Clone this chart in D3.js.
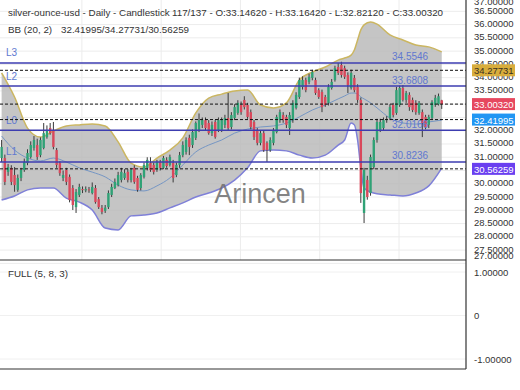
<!DOCTYPE html>
<html>
<head>
<meta charset="utf-8">
<script src="https://cdn.jsdelivr.net/npm/d3@7"></script>
<style>
  body { margin: 0; background: #fff; }
  svg { display: block; font-family: "Liberation Sans", Arial, sans-serif; }
</style>
</head>
<body>
<div id="chart"></div>
<script>
// Daily candles, oldest first (137 bars)
const opens = [30.97,30.97,30.45,30.60,30.33,29.77,30.22,30.52,30.78,31.01,
  31.35,31.46,31.08,31.35,31.76,32.10,32.03,31.27,30.78,30.22,
  30.52,30.26,29.84,29.12,29.58,29.80,29.75,29.79,29.65,29.84,
  29.42,29.09,28.98,29.12,29.58,29.84,29.95,30.14,30.22,30.45,
  30.14,30.60,30.22,29.84,30.26,30.60,30.78,30.71,30.52,30.82,
  30.60,30.90,30.71,30.78,30.33,30.71,31.08,31.20,31.73,31.46,
  31.73,32.03,32.22,32.40,32.29,31.91,32.33,32.03,32.03,32.22,
  32.48,32.14,32.48,32.67,32.97,33.16,32.97,32.70,32.33,32.03,
  31.54,31.91,31.54,31.27,31.54,31.95,32.40,32.59,32.52,32.10,
  32.40,32.86,33.27,33.65,33.91,33.84,33.99,33.91,33.53,33.46,
  33.27,33.05,33.61,33.91,34.40,34.48,34.36,34.10,33.61,33.99,
  33.65,33.16,28.90,30.14,29.65,30.63,31.65,32.03,32.10,32.40,
  32.48,32.97,32.67,32.97,33.61,33.16,33.35,33.16,33.05,32.67,
  32.70,32.52,32.22,32.48,32.97,33.00,33.1462];
const highs = [31.65,31.10,30.75,30.70,30.63,30.35,30.60,30.95,31.30,31.60,
  31.80,31.70,31.75,32.29,32.20,32.29,32.33,31.35,30.85,30.50,
  30.60,30.35,29.95,29.80,30.00,29.90,29.90,29.88,30.05,29.95,
  29.50,29.20,29.20,29.75,30.00,30.20,30.45,30.60,30.55,30.55,
  30.60,30.70,30.30,30.40,30.80,31.00,31.00,30.80,30.90,30.90,
  31.05,31.00,31.10,30.90,30.80,31.20,31.60,31.75,31.85,32.05,
  32.35,32.65,32.50,32.50,32.40,32.35,32.40,32.50,32.50,32.60,
  33.42,32.70,33.00,33.15,33.10,33.30,33.05,32.80,32.40,32.10,
  32.00,32.00,31.60,31.75,32.10,32.60,32.80,32.70,32.60,32.70,
  33.15,33.45,34.00,34.05,34.00,34.15,34.30,34.00,33.60,33.55,
  33.35,33.75,33.95,34.45,34.55,34.60,34.45,34.20,34.30,34.10,
  33.75,33.25,30.60,30.30,31.10,31.75,32.45,32.45,32.50,32.55,
  33.00,33.05,33.65,33.70,33.72,33.50,33.45,33.25,33.15,33.12,
  32.80,32.60,32.60,33.15,33.35,33.40,33.1642];
const lows = [30.82,29.95,30.30,29.95,29.70,29.70,30.10,30.45,30.70,30.95,
  31.25,30.90,31.00,31.30,31.70,31.85,31.30,30.60,30.30,30.10,
  29.95,29.30,29.01,28.90,29.50,29.65,29.68,29.66,29.60,29.25,
  29.05,28.85,28.90,29.05,29.50,29.80,29.90,30.05,30.15,30.05,
  30.05,30.00,29.70,29.75,30.20,30.50,30.45,30.35,30.45,30.50,
  30.55,30.60,30.65,30.05,30.25,30.60,31.00,31.10,31.08,31.35,
  31.65,31.95,32.10,32.00,31.85,31.80,31.70,31.95,31.95,32.10,
  32.00,32.05,32.40,32.60,32.60,32.80,32.45,32.05,31.65,31.45,
  31.45,31.20,30.82,31.20,31.45,31.90,32.30,32.30,32.10,31.84,
  32.30,32.80,33.20,33.55,33.45,33.75,33.90,33.35,33.20,32.70,
  32.90,32.95,33.55,33.85,34.10,34.00,33.95,33.42,33.55,33.45,
  33.05,29.28,28.52,29.40,29.55,30.55,31.55,31.95,32.00,32.30,
  32.40,32.50,32.60,32.90,33.10,33.05,32.75,32.70,32.60,32.60,
  31.76,32.05,32.10,32.40,32.90,32.95,32.8212];
const closes = [31.39,30.07,30.63,30.07,29.95,30.22,30.52,30.82,31.16,31.46,
  31.65,31.01,31.65,31.91,32.03,31.91,31.39,30.71,30.40,30.33,
  30.07,29.39,29.20,29.69,29.88,29.76,29.80,29.76,29.88,29.31,
  29.12,28.94,29.10,29.65,29.88,30.07,30.33,30.45,30.40,30.14,
  30.52,30.07,29.77,30.33,30.71,30.90,30.52,30.45,30.82,30.60,
  30.97,30.67,31.01,30.22,30.71,31.08,31.46,31.65,31.39,31.95,
  32.29,32.40,32.40,32.10,31.91,32.22,31.76,32.40,32.40,32.48,
  32.10,32.59,32.89,33.05,32.70,32.89,32.52,32.14,31.76,31.54,
  31.91,31.27,31.27,31.65,32.03,32.52,32.70,32.40,32.22,32.59,
  33.05,33.35,33.91,33.91,33.53,34.03,34.21,33.42,33.27,32.89,
  32.97,33.65,33.84,34.36,34.18,34.10,34.03,33.72,34.18,33.53,
  33.16,29.65,30.52,29.50,31.01,31.65,32.33,32.33,32.40,32.44,
  32.89,32.59,33.53,33.61,33.16,33.42,32.89,32.78,32.70,33.05,
  32.29,32.14,32.52,33.08,33.24,33.30,33.0032];

// Bollinger band (20, 2) read at these bar indices
const bbIdx   = [0,4,8,12,16,20,24,28,32,36,40,44,48,52,56,60,64,68,72,76,80,84,88,92,96,100,104,106,108,109,110,111,112,114,116,120,124,128,132,136];
const bbUpper = [34.18,33.27,32.10,31.76,31.99,32.18,32.22,32.25,32.18,31.58,30.78,30.63,30.97,31.27,31.73,32.67,33.23,33.38,33.50,33.53,32.97,32.86,33.05,33.91,34.21,34.40,34.66,34.74,34.85,35.04,35.42,35.80,35.99,36.10,36.02,35.61,35.42,35.23,35.16,34.97];
const bbMid   = [31.80,31.27,30.97,30.86,30.97,30.82,30.60,30.44,30.26,29.95,29.77,29.73,29.92,30.22,30.71,31.20,31.46,31.65,31.91,32.06,32.14,32.18,32.29,32.52,32.78,32.97,33.20,33.31,33.42,33.42,33.39,33.27,33.20,33.05,32.86,32.48,32.29,32.25,32.33,32.40];
const bbLower = [29.39,29.54,29.77,29.84,29.84,29.46,29.31,29.01,28.33,28.26,28.79,28.82,28.90,29.09,29.28,29.50,29.65,29.84,30.14,30.60,31.24,31.27,31.24,31.08,30.97,31.08,31.46,31.65,32.29,32.22,31.65,30.59,29.84,29.69,29.62,29.58,29.54,29.65,29.92,30.59];

// Horizontal levels
const levelNames  = ['L3', 'L2', 'L0', 'L1'];
const levelValues = [34.5546, 33.6808, 32.0166, 30.8236];

// Last values marked on the price axis
const markNames  = ['upper', 'close', 'mid', 'lower'];
const markValues = [34.27731, 33.00320, 32.41995, 30.56259];
const markColors = ['#d8ad3c', '#e6485f', '#2196f3', '#6a3ff0'];
const markText   = ['#3a3020', '#fff', '#fff', '#fff'];

const priceTicks = d3.range(27, 37.01, 0.5);
const oscTicks = [1, 0, -1];
const oscLabels = ['1.00000', '0', '-1.00000'];
const timeGrid = [24.8, 49.3, 73.8, 98.3, 122.8];

class CandleChart {
  constructor(_config) {
    this.config = {
      parentElement: _config.parentElement,
      width: 520,
      height: 390,
      plotRight: 466,
      mainBottom: 260,
      subBottom: 369
    };
    this.initVis();
  }

  initVis() {
    let vis = this;
    const c = vis.config;

    vis.svg = d3.select(c.parentElement).append('svg')
        .attr('width', c.width)
        .attr('height', c.height);

    vis.xScale = d3.scaleLinear().domain([-0.5, 143.5]).range([0, c.plotRight]);
    vis.yScale = d3.scaleLinear().domain([36.927, 27.127]).range([0, c.mainBottom]);
    vis.oscScale = d3.scaleLinear().domain([1, -1]).range([272, 359]);

    vis.data = closes.map((d, i) => ({i: i, o: opens[i], h: highs[i], l: lows[i], c: d}));
    vis.bands = bbIdx.map((d, k) => ({i: d, u: bbUpper[k], m: bbMid[k], lo: bbLower[k]}));
    vis.renderVis();
  }

  renderVis() {
    let vis = this;
    const c = vis.config;
    const x = vis.xScale, y = vis.yScale;

    // grid
    const grid = vis.svg.append('g');
    grid.selectAll('.hgrid').data(priceTicks).join('line')
        .attr('x1', 0).attr('x2', c.plotRight)
        .attr('y1', d => y(d)).attr('y2', d => y(d))
        .attr('stroke', '#ececec');
    grid.selectAll('.vgrid').data(timeGrid).join('line')
        .attr('x1', d => x(d)).attr('x2', d => x(d))
        .attr('y1', 0).attr('y2', c.mainBottom)
        .attr('stroke', '#ececec');
    grid.selectAll('.ogrid').data(oscTicks).join('line')
        .attr('x1', 0).attr('x2', c.plotRight)
        .attr('y1', d => vis.oscScale(d)).attr('y2', d => vis.oscScale(d))
        .attr('stroke', '#f0f0f0');

    // bollinger area + lines
    const curve = d3.curveMonotoneX;
    vis.svg.append('path').datum(vis.bands)
        .attr('d', d3.area().curve(curve).x(d => x(d.i)).y0(d => y(d.lo)).y1(d => y(d.u)))
        .attr('fill', '#b6b6b6').attr('fill-opacity', 0.8);
    const bandLine = (acc, col, w) => vis.svg.append('path').datum(vis.bands)
        .attr('d', d3.line().curve(curve).x(d => x(d.i)).y(d => y(acc(d))))
        .attr('fill', 'none').attr('stroke', col).attr('stroke-width', w);
    bandLine(d => d.u, '#cbb661', 1.5);
    bandLine(d => d.lo, '#7f80d8', 1.5);
    bandLine(d => d.m, '#7596c4', 1);

    // candles
    const candles = vis.svg.append('g').selectAll('g').data(vis.data).join('g');
    candles.append('line')
        .attr('x1', d => x(d.i)).attr('x2', d => x(d.i))
        .attr('y1', d => y(d.h)).attr('y2', d => y(d.l))
        .attr('stroke', '#3a3a3a').attr('stroke-width', 1);
    candles.append('rect')
        .attr('x', d => x(d.i) - 1.2)
        .attr('width', 2.4)
        .attr('y', d => y(Math.max(d.o, d.c)))
        .attr('height', d => Math.max(1, Math.abs(y(d.o) - y(d.c))))
        .attr('fill', d => d.c >= d.o ? '#30a276' : '#d9485b');

    // levels
    const lv = vis.svg.append('g');
    lv.selectAll('line').data(levelValues).join('line')
        .attr('x1', 0).attr('x2', c.plotRight)
        .attr('y1', d => y(d)).attr('y2', d => y(d))
        .attr('stroke', '#3d3db0').attr('stroke-width', 1.5);
    lv.selectAll('.lname').data(levelNames).join('text')
        .attr('x', 6).attr('y', (d, k) => y(levelValues[k]) - 10)
        .attr('dominant-baseline', 'central')
        .attr('font-size', 10).attr('fill', '#6078d0')
        .text(d => d);
    lv.selectAll('.lval').data(levelValues).join('text')
        .attr('x', 392).attr('y', d => y(d) - 6)
        .attr('dominant-baseline', 'central')
        .attr('font-size', 10).attr('fill', '#6078d0')
        .text(d => d.toFixed(4));

    // dashed markers
    vis.svg.append('g').selectAll('line').data(markValues).join('line')
        .attr('x1', 0).attr('x2', c.plotRight)
        .attr('y1', d => y(d)).attr('y2', d => y(d))
        .attr('stroke', '#111').attr('stroke-dasharray', '3,2');

    // watermark
    vis.svg.append('text')
        .attr('x', 260).attr('y', 194)
        .attr('text-anchor', 'middle').attr('dominant-baseline', 'central')
        .attr('font-size', 27).attr('fill', '#6e6e6e').attr('fill-opacity', 0.85)
        .text('Arincen');

    // frame
    const frame = vis.svg.append('g').attr('stroke', '#333').attr('stroke-width', 1.2);
    frame.append('line').attr('x1', c.plotRight).attr('x2', c.plotRight).attr('y1', 0).attr('y2', c.subBottom);
    frame.append('line').attr('x1', 0).attr('x2', c.plotRight).attr('y1', c.mainBottom).attr('y2', c.mainBottom);
    frame.append('line').attr('x1', 0).attr('x2', c.plotRight).attr('y1', c.subBottom).attr('y2', c.subBottom);

    // price axis labels (edge labels pushed inside the panel)
    vis.svg.append('g').selectAll('text').data(priceTicks).join('text')
        .attr('x', 474)
        .attr('y', d => {
          const p = y(d) - 1;
          return p < 6 ? 1.5 : Math.min(255, p);
        })
        .attr('dominant-baseline', 'central')
        .attr('font-size', 9.5).attr('fill', '#333')
        .text(d => d.toFixed(5));

    const marks = vis.svg.append('g').selectAll('g').data(markValues).join('g')
        .attr('transform', d => `translate(472,${y(d)})`);
    marks.append('rect')
        .attr('x', 0).attr('y', -6).attr('width', 43).attr('height', 12)
        .attr('fill', (d, k) => markColors[k]);
    marks.append('text')
        .attr('x', 2).attr('y', 0.5)
        .attr('dominant-baseline', 'central')
        .attr('font-size', 9.5).attr('fill', (d, k) => markText[k])
        .text(d => d.toFixed(5));

    // oscillator axis
    vis.svg.append('g').selectAll('text').data(oscTicks).join('text')
        .attr('x', 474).attr('y', d => vis.oscScale(d))
        .attr('dominant-baseline', 'central')
        .attr('font-size', 9.5).attr('fill', '#333')
        .text((d, k) => oscLabels[k]);

    // titles
    const t = vis.svg.append('g').attr('font-size', 9.8).attr('fill', '#333');
    t.append('text').attr('x', 8).attr('y', 12.5).attr('dominant-baseline', 'central')
        .text('silver-ounce-usd - Daily - Candlestick');
    t.append('text').attr('x', 172).attr('y', 12.5).attr('dominant-baseline', 'central')
        .text('117/137 - O:33.14620 - H:33.16420 - L:32.82120 - C:33.00320');
    t.append('text').attr('x', 8).attr('y', 29.5).attr('dominant-baseline', 'central')
        .text('BB (20, 2)');
    t.append('text').attr('x', 61).attr('y', 29.5).attr('dominant-baseline', 'central')
        .text(markValues[2].toFixed(5) + '/' + markValues[0].toFixed(5) + '/' + markValues[3].toFixed(5));
    t.append('text').attr('x', 8).attr('y', 273.5).attr('dominant-baseline', 'central')
        .text('FULL (5, 8, 3)');
  }
}

new CandleChart({parentElement: '#chart'});
</script>
</body>
</html>
